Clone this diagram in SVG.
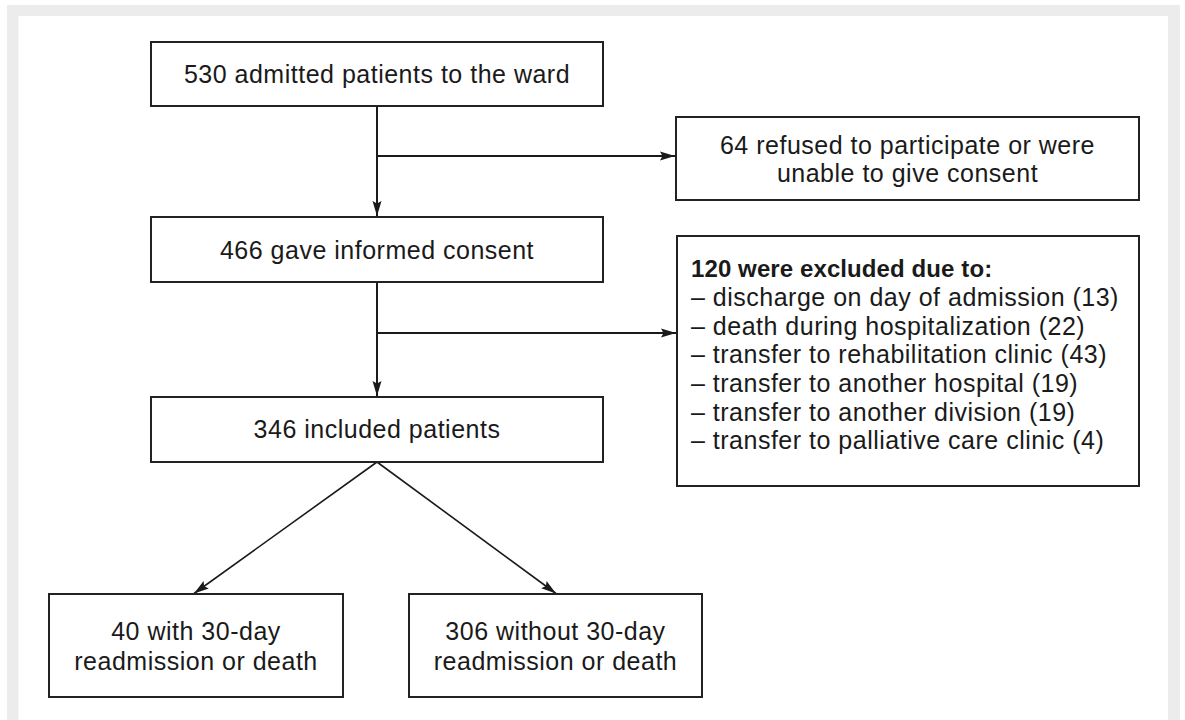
<svg xmlns="http://www.w3.org/2000/svg" width="1185" height="720" viewBox="0 0 1185 720">
  <style>
    .box { fill: #ffffff; stroke: #222222; stroke-width: 2; }
    .t { font-family: "Liberation Sans", Arial, sans-serif; font-size: 25px; letter-spacing: 0.5px; fill: #1a1a1a; }
    .c { text-anchor: middle; }
    .b { font-weight: bold; font-size: 24px; letter-spacing: 0.1px; }
    .conn { fill: none; stroke: #1a1a1a; stroke-width: 2; }
    .diag { fill: none; stroke: #1a1a1a; stroke-width: 1.6; }
  </style>
  <defs>
    <marker id="arrow" markerUnits="userSpaceOnUse" markerWidth="16" markerHeight="10" refX="15" refY="5" orient="auto">
      <path d="M0,0.5 L15,5 L0,9.5 L2.5,5 Z" fill="#1a1a1a"/>
    </marker>
  </defs>
  <rect x="0" y="0" width="1185" height="720" fill="#ffffff"/>
  <rect x="7" y="5" width="1173" height="715" fill="#ececec"/>
  <rect x="18.5" y="16" width="1149.5" height="704" fill="#ffffff"/>

  <g id="connectors">
    <line class="conn" x1="377" y1="106" x2="377" y2="216" marker-end="url(#arrow)"/>
    <line class="conn" x1="377" y1="156" x2="675" y2="156" marker-end="url(#arrow)"/>
    <line class="conn" x1="377" y1="282" x2="377" y2="396" marker-end="url(#arrow)"/>
    <line class="conn" x1="377" y1="333" x2="676" y2="333" marker-end="url(#arrow)"/>
    <line class="diag" x1="377" y1="462" x2="194" y2="593.5" marker-end="url(#arrow)"/>
    <line class="diag" x1="377" y1="462" x2="556" y2="593.5" marker-end="url(#arrow)"/>
  </g>

  <g id="admitted">
    <rect class="box" x="151" y="42" width="452" height="64"/>
    <text class="t c" x="377" y="83">530 admitted patients to the ward</text>
  </g>
  <g id="refused">
    <rect class="box" x="676" y="117" width="463" height="83"/>
    <text class="t c" x="907.5" y="154">64 refused to participate or were</text>
    <text class="t c" x="907.5" y="182">unable to give consent</text>
  </g>
  <g id="consent">
    <rect class="box" x="151" y="217" width="452" height="65"/>
    <text class="t c" x="377" y="258.5">466 gave informed consent</text>
  </g>
  <g id="excluded">
    <rect class="box" x="677" y="236" width="462" height="250"/>
    <text class="t b" x="691" y="277">120 were excluded due to:</text>
    <text class="t" x="691" y="306">– discharge on day of admission (13)</text>
    <text class="t" x="691" y="334.5">– death during hospitalization (22)</text>
    <text class="t" x="691" y="363">– transfer to rehabilitation clinic (43)</text>
    <text class="t" x="691" y="392">– transfer to another hospital (19)</text>
    <text class="t" x="691" y="420.5">– transfer to another division (19)</text>
    <text class="t" x="691" y="449">– transfer to palliative care clinic (4)</text>
  </g>
  <g id="included">
    <rect class="box" x="151" y="397" width="452" height="65"/>
    <text class="t c" x="377" y="438">346 included patients</text>
  </g>
  <g id="with-readmission">
    <rect class="box" x="49" y="594" width="294" height="103"/>
    <text class="t c" x="196" y="640">40 with 30-day</text>
    <text class="t c" x="196" y="670">readmission or death</text>
  </g>
  <g id="without-readmission">
    <rect class="box" x="409" y="594" width="293" height="103"/>
    <text class="t c" x="555.5" y="640">306 without 30-day</text>
    <text class="t c" x="555.5" y="670">readmission or death</text>
  </g>
</svg>
